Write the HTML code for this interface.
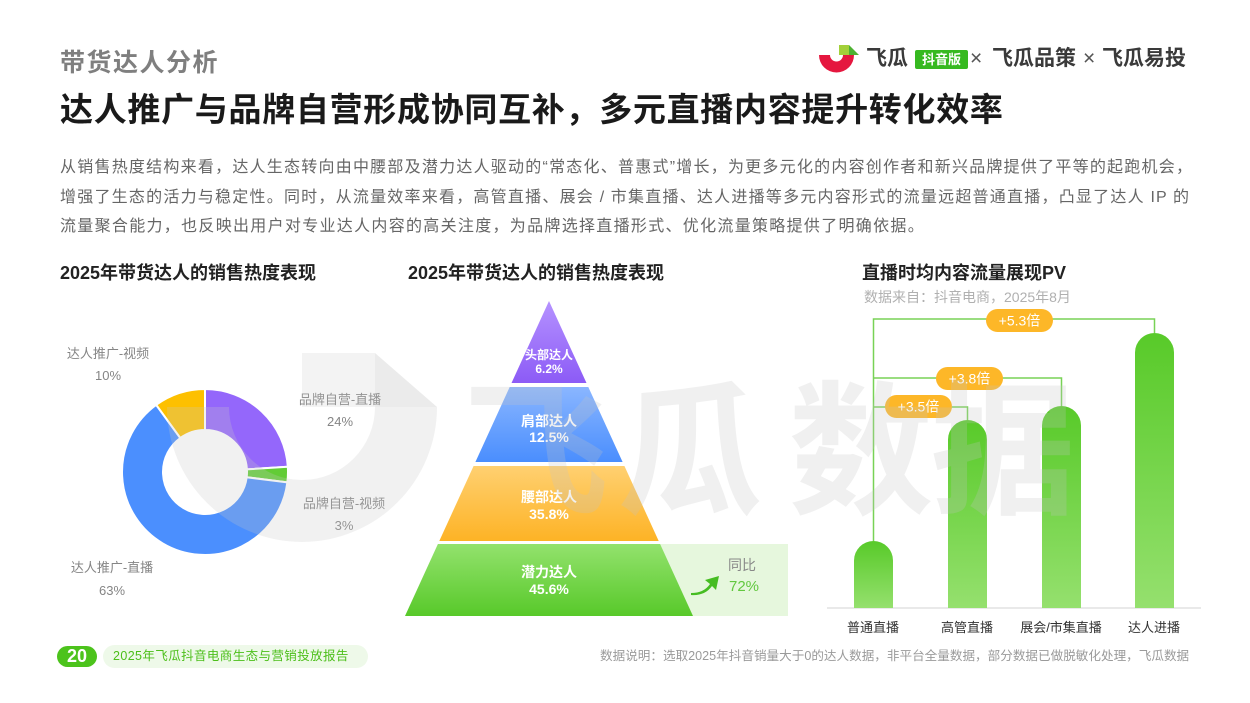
<!DOCTYPE html>
<html><head><meta charset="utf-8">
<style>
*{margin:0;padding:0;box-sizing:border-box}
body{width:1250px;height:703px;background:#fff;position:relative;overflow:hidden;font-family:"Liberation Sans","Noto Sans CJK SC",sans-serif}
.a{position:absolute;white-space:nowrap}
.p{position:absolute;left:60px;width:1133px;font-size:16px;line-height:20px;color:#666;letter-spacing:1px;text-align:justify;text-align-last:justify}
.lbl{position:absolute;font-size:13px;line-height:16px;color:#858585;text-align:center;white-space:nowrap}
.pt{position:absolute;color:#fff;font-weight:bold;text-align:center;white-space:nowrap}
.xl{position:absolute;font-size:13px;line-height:16px;color:#333;text-align:center;width:100px;white-space:nowrap}
</style></head><body>

<!-- header -->
<div class="a" style="left:60px;top:48px;font-size:25px;line-height:30px;font-weight:bold;color:#7f7f7f;letter-spacing:1.5px">带货达人分析</div>
<div class="a" style="left:60px;top:90px;font-size:33px;line-height:40px;font-weight:bold;color:#1a1a1a;letter-spacing:0.7px">达人推广与品牌自营形成协同互补，多元直播内容提升转化效率</div>

<!-- logo -->
<svg class="a" style="left:0;top:0" width="1250" height="90">
  <path d="M819,55 A17.5,17.5 0 0 0 854,55 L843,55 A6.5,6.5 0 0 1 830,55 Z" fill="#e5173f"/>
  <polygon points="839,45 849,45 849,55 839,55" fill="#a3d03a"/>
  <polygon points="849,45 859,55 849,55" fill="#4db232"/>
</svg>
<div class="a" style="left:866px;top:46px;font-size:21px;line-height:26px;font-weight:bold;color:#3a3a3a">飞瓜</div>
<div class="a" style="left:915px;top:50px;width:53px;height:19px;background:#36b920;border-radius:2px;color:#fff;font-size:13px;line-height:19px;font-weight:bold;text-align:center">抖音版</div>
<div class="a" style="left:970px;top:46px;font-size:21px;line-height:26px;color:#555">×</div>
<div class="a" style="left:992px;top:46px;font-size:21px;line-height:26px;font-weight:bold;color:#3a3a3a">飞瓜品策</div>
<div class="a" style="left:1083px;top:46px;font-size:21px;line-height:26px;color:#555">×</div>
<div class="a" style="left:1102px;top:46px;font-size:21px;line-height:26px;font-weight:bold;color:#3a3a3a">飞瓜易投</div>

<!-- paragraph -->
<div class="p" style="top:158px">从销售热度结构来看，达人生态转向由中腰部及潜力达人驱动的“常态化、普惠式”增长，为更多元化的内容创作者和新兴品牌提供了平等的起跑机会，</div>
<div class="p" style="top:188px;width:1130px">增强了生态的活力与稳定性。同时，从流量效率来看，高管直播、展会 / 市集直播、达人进播等多元内容形式的流量远超普通直播，凸显了达人 IP 的</div>
<div class="a" style="left:60px;top:217px;font-size:16px;line-height:20px;color:#666;letter-spacing:1.3px">流量聚合能力，也反映出用户对专业达人内容的高关注度，为品牌选择直播形式、优化流量策略提供了明确依据。</div>

<!-- section titles -->
<div class="a" style="left:60px;top:262px;font-size:18px;line-height:22px;font-weight:bold;color:#222">2025年带货达人的销售热度表现</div>
<div class="a" style="left:408px;top:262px;font-size:18px;line-height:22px;font-weight:bold;color:#222">2025年带货达人的销售热度表现</div>
<div class="a" style="left:862px;top:262px;font-size:18px;line-height:22px;font-weight:bold;color:#222">直播时均内容流量展现PV</div>
<div class="a" style="left:864px;top:289px;font-size:14px;line-height:17px;color:#b0b0b0">数据来自：抖音电商，2025年8月</div>

<!-- charts -->
<svg class="a" style="left:0;top:0" width="1250" height="703">
  <defs>
    <linearGradient id="gp" x1="0" y1="0" x2="0" y2="1"><stop offset="0" stop-color="#b592ff"/><stop offset="1" stop-color="#8c5bf6"/></linearGradient>
    <linearGradient id="gb" x1="0" y1="0" x2="0" y2="1"><stop offset="0" stop-color="#8ab6ff"/><stop offset="1" stop-color="#4a8efe"/></linearGradient>
    <linearGradient id="go" x1="0" y1="0" x2="0" y2="1"><stop offset="0" stop-color="#ffd071"/><stop offset="1" stop-color="#fdb326"/></linearGradient>
    <linearGradient id="gg" x1="0" y1="0" x2="0" y2="1"><stop offset="0" stop-color="#93e26d"/><stop offset="1" stop-color="#58c92a"/></linearGradient>
    <linearGradient id="gbar" x1="0" y1="0" x2="0" y2="1"><stop offset="0" stop-color="#58ca29"/><stop offset="1" stop-color="#95e06e"/></linearGradient>
  </defs>

  <!-- donut -->
  <g stroke="#fff" stroke-width="2" stroke-linejoin="round">
    <path d="M205,389 A83,83 0 0 1 287.84,466.79 L246.92,469.36 A42,42 0 0 0 205,430 Z" fill="#9467fb"/>
    <path d="M287.84,466.79 A83,83 0 0 1 287.35,482.40 L246.67,477.26 A42,42 0 0 0 246.92,469.36 Z" fill="#62cc36"/>
    <path d="M287.35,482.40 A83,83 0 1 1 156.21,404.85 L180.31,438.02 A42,42 0 1 0 246.67,477.26 Z" fill="#4b8ffe"/>
    <path d="M156.21,404.85 A83,83 0 0 1 205,389 L205,430 A42,42 0 0 0 180.31,438.02 Z" fill="#fdc000"/>
  </g>

  <!-- pyramid -->
  <rect x="640" y="544" width="148" height="72" fill="#e6f7dd"/>
  <polygon points="549,301 586.49,383 511.51,383" fill="url(#gp)"/>
  <polygon points="509.69,387 588.31,387 622.6,462 475.4,462" fill="url(#gb)"/>
  <polygon points="473.57,466 624.43,466 658.71,541 439.29,541" fill="url(#go)"/>
  <polygon points="437.91,544 660.09,544 693,616 405,616" fill="url(#gg)"/>
  <path d="M691,593 Q704,593 710,584 L705,580 L719,576 L716,590 L712,586 Q705,596 691,595 Z" fill="#46bd22"/>

  <!-- bars -->
  <line x1="827" y1="608" x2="1201" y2="608" stroke="#e2e2e2" stroke-width="1.5"/>
  <path d="M854,608 V560.5 A19.5,19.5 0 0 1 893,560.5 V608 Z" fill="url(#gbar)"/>
  <path d="M948,608 V439.5 A19.5,19.5 0 0 1 987,439.5 V608 Z" fill="url(#gbar)"/>
  <path d="M1042,608 V425.5 A19.5,19.5 0 0 1 1081,425.5 V608 Z" fill="url(#gbar)"/>
  <path d="M1135,608 V352.5 A19.5,19.5 0 0 1 1174,352.5 V608 Z" fill="url(#gbar)"/>
  <g fill="none" stroke="#78d256" stroke-width="1.5">
    <path d="M873.5,541 V319 H1154.5 V333"/>
    <path d="M873.5,378 H1061.5 V406"/>
    <path d="M873.5,407 H967.5 V420"/>
  </g>
  <rect x="986" y="309" width="67" height="23" rx="11.5" fill="#fdb728"/>
  <rect x="936" y="367" width="67" height="23" rx="11.5" fill="#fdb728"/>
  <rect x="885" y="395" width="67" height="23" rx="11.5" fill="#fdb728"/>
  <g font-family="Liberation Sans, Noto Sans CJK SC, sans-serif" font-size="14" fill="#fff" text-anchor="middle">
    <text x="1019.5" y="325.5">+5.3倍</text>
    <text x="969.5" y="383.5">+3.8倍</text>
    <text x="918.5" y="411.5">+3.5倍</text>
  </g>
</svg>

<!-- donut labels -->
<div class="lbl" style="left:58px;top:346px;width:100px">达人推广-视频</div>
<div class="lbl" style="left:58px;top:368px;width:100px">10%</div>
<div class="lbl" style="left:290px;top:392px;width:100px">品牌自营-直播</div>
<div class="lbl" style="left:290px;top:414px;width:100px">24%</div>
<div class="lbl" style="left:294px;top:496px;width:100px">品牌自营-视频</div>
<div class="lbl" style="left:294px;top:518px;width:100px">3%</div>
<div class="lbl" style="left:62px;top:560px;width:100px">达人推广-直播</div>
<div class="lbl" style="left:62px;top:583px;width:100px">63%</div>

<!-- pyramid labels -->
<div class="pt" style="left:499px;top:348px;width:100px;font-size:12px;line-height:15px">头部达人</div>
<div class="pt" style="left:499px;top:362px;width:100px;font-size:12px;line-height:15px">6.2%</div>
<div class="pt" style="left:499px;top:413px;width:100px;font-size:14px;line-height:17px">肩部达人</div>
<div class="pt" style="left:499px;top:429px;width:100px;font-size:14px;line-height:17px">12.5%</div>
<div class="pt" style="left:499px;top:489px;width:100px;font-size:14px;line-height:17px">腰部达人</div>
<div class="pt" style="left:499px;top:506px;width:100px;font-size:14px;line-height:17px">35.8%</div>
<div class="pt" style="left:499px;top:564px;width:100px;font-size:14px;line-height:17px">潜力达人</div>
<div class="pt" style="left:499px;top:581px;width:100px;font-size:14px;line-height:17px">45.6%</div>
<div class="a" style="left:728px;top:557px;font-size:14px;line-height:17px;color:#888">同比</div>
<div class="a" style="left:729px;top:578px;font-size:15px;line-height:18px;color:#62c83f">72%</div>

<!-- bar labels -->
<div class="xl" style="left:823px;top:620px">普通直播</div>
<div class="xl" style="left:917px;top:620px">高管直播</div>
<div class="xl" style="left:1011px;top:620px">展会/市集直播</div>
<div class="xl" style="left:1104px;top:620px">达人进播</div>

<!-- footer -->
<div class="a" style="left:57px;top:646px;width:40px;height:21px;border-radius:11px;background:#4cc31c;color:#fff;font-size:18px;line-height:21px;font-weight:bold;text-align:center">20</div>
<div class="a" style="left:103px;top:645px;width:265px;height:23px;border-radius:12px;background:#eef9e9"></div>
<div class="a" style="left:113px;top:648px;font-size:12.5px;line-height:17px;color:#4cbf1a;letter-spacing:0.4px">2025年飞瓜抖音电商生态与营销投放报告</div>
<div class="a" style="left:600px;top:648px;font-size:12.6px;line-height:17px;color:#9a9a9a">数据说明：选取2025年抖音销量大于0的达人数据，非平台全量数据，部分数据已做脱敏化处理，飞瓜数据</div>

<!-- watermark overlay -->
<svg class="a" style="left:0;top:0;pointer-events:none" width="1250" height="703">
  <path d="M167,407 A135,135 0 0 0 437,407 L375,407 A73,73 0 0 1 229,407 Z" fill="rgba(199,199,199,0.25)"/>
  <polygon points="302,353 375,353 375,407 302,407" fill="rgba(199,199,199,0.22)"/>
  <polygon points="375,353 437,407 375,407" fill="rgba(190,190,190,0.3)"/>
  <g font-family="Noto Sans CJK SC, sans-serif" font-size="145" font-weight="bold" fill="rgba(195,195,195,0.25)" text-anchor="middle">
    <text x="536" y="503">飞</text>
    <text x="690" y="503">瓜</text>
    <text x="861" y="503">数</text>
    <text x="1003" y="503">据</text>
  </g>
</svg>

</body></html>
